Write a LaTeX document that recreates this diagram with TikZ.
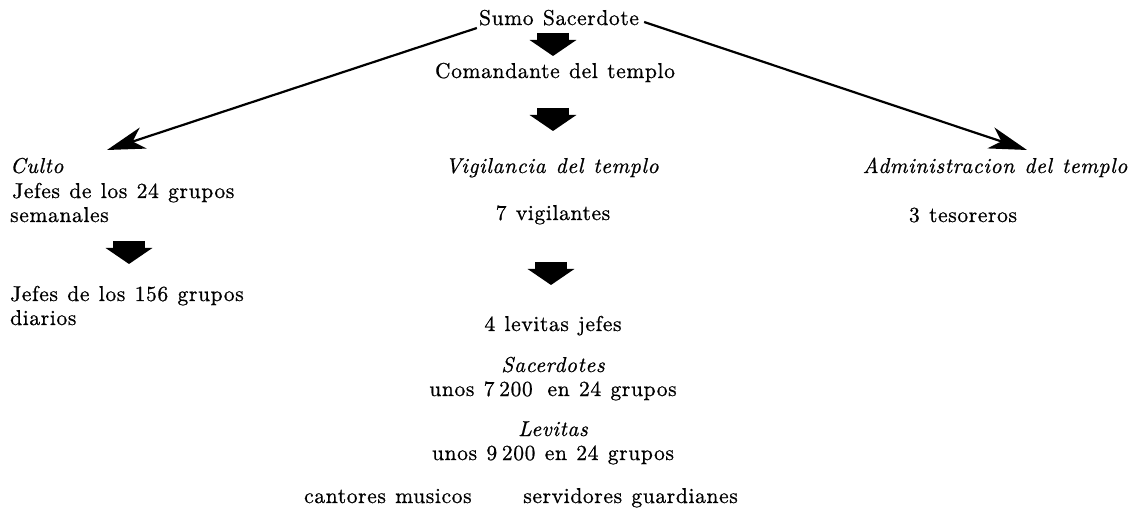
\documentclass[tikz,border=0pt]{standalone}
\usepackage{fontspec}
\setmainfont{lmroman10}[Extension=.otf, UprightFont=*-regular, ItalicFont=*-italic, LetterSpace=3, WordSpace=1.2, FakeBold=0.8]
\usetikzlibrary{arrows.meta,calc}
\begin{document}
\begin{tikzpicture}[x=1bp,y=-1bp,
  txt/.style={inner sep=0pt, font=\fontsize{21.5bp}{24bp}\selectfont},
  ittxt/.style={inner sep=0pt, font=\fontsize{21.5bp}{24bp}\selectfont\itshape},
  thinarrow/.style={line width=2.2bp, -{Stealth[length=38bp,width=22bp,inset=11bp]}},
  bigarrow/.style={line width=32bp, -{Triangle[length=16bp,width=46bp]}}]
\useasboundingbox (0,0) rectangle (1141,521);
% centre column
\node[txt, anchor=base] (sumo) at (559,25) {Sumo Sacerdote};
\node[txt, anchor=base] (coman) at (555,78) {Comandante del templo};
\node[ittxt, anchor=base] (vig) at (552,173) {Vigilancia del templo};
\node[txt, anchor=base] (vig7) at (553,220) {7 vigilantes};
\node[txt, anchor=base] (lev4) at (553,331) {4 levitas jefes};
\node[ittxt, anchor=base] (sac) at (553,372) {Sacerdotes};
\node[txt, anchor=base] (sac2) at (553,396) {unos 7\hspace{0.22em}200\hspace{0.25em} en 24 grupos};
\node[ittxt, anchor=base] (levi) at (553,436) {Levitas};
\node[txt, anchor=base] (levi2) at (553,460) {unos 9\hspace{0.22em}200 en 24 grupos};
\node[txt, anchor=base west] (cant) at (304,503) {cantores musicos};
\node[txt, anchor=base east] (serv) at (738,503) {servidores guardianes};
% left column
\node[ittxt, anchor=base west] (culto) at (10,173) {Culto};
\node[txt, anchor=base west] (j24a) at (12,198) {Jefes de los 24 grupos};
\node[txt, anchor=base west] (j24b) at (10,222) {semanales};
\node[txt, anchor=base west] (j156a) at (10,301) {Jefes de los 156 grupos};
\node[txt, anchor=base west] (j156b) at (10,325) {diarios};
% right column
\node[ittxt, anchor=base] (admin) at (995,173) {Administracion del templo};
\node[txt, anchor=base] (tes) at (963,222) {3 tesoreros};
% thin arrows
\coordinate (lt) at (107,150);
\coordinate (rt) at (1027,150);
\draw[thinarrow] ([xshift=-2bp,yshift=-3bp]sumo.base west) -- (lt);
\draw[thinarrow] ([xshift=5bp,yshift=3bp]sumo.base east) -- (rt);
% block arrows
\coordinate (b1a) at (553,33);  \coordinate (b1b) at (553,56);
\coordinate (b2a) at (553,108); \coordinate (b2b) at (553,131);
\coordinate (b3a) at (129,241); \coordinate (b3b) at (129,264);
\coordinate (b4a) at (551,262); \coordinate (b4b) at (551,285);
\draw[bigarrow] (b1a) -- (b1b);
\draw[bigarrow] (b2a) -- (b2b);
\draw[bigarrow] (b3a) -- (b3b);
\draw[bigarrow] (b4a) -- (b4b);
\end{tikzpicture}
\end{document}
